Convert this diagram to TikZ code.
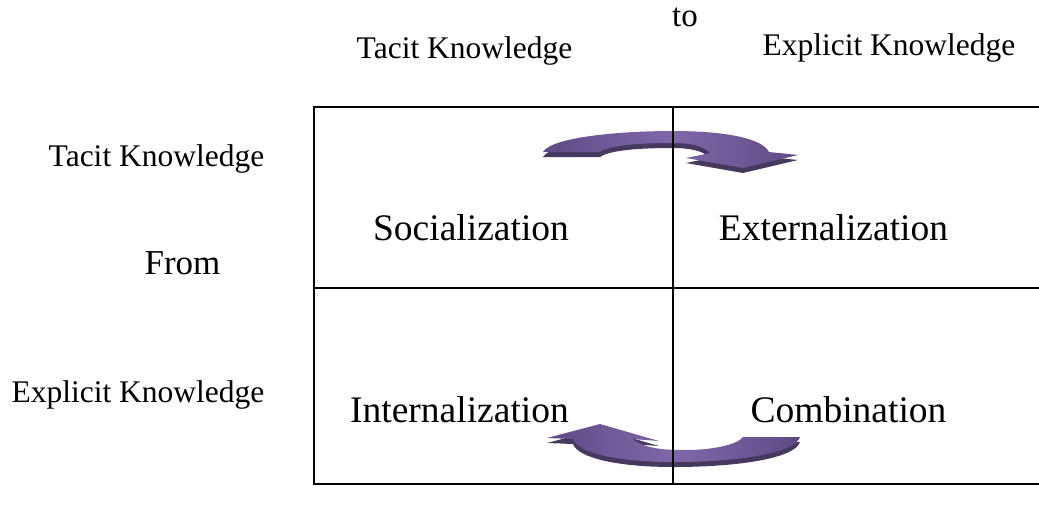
\documentclass[tikz,border=0pt]{standalone}
\usepackage{fontspec}
\setmainfont{Liberation Serif}
\begin{document}
\begin{tikzpicture}[x=1pt,y=-1pt,
  cell/.style={anchor=base,inner sep=0pt,font=\fontsize{37.5}{40}\selectfont},
  axis/.style={anchor=base,inner sep=0pt,font=\fontsize{31.5}{34}\selectfont},
  grid/.style={line width=2.2pt,black},
  arrowside/.style={fill=arrowdark},
  arrowface/.style={left color=arrowend,right color=arrowend,middle color=arrowmid}]
\definecolor{arrowdark}{HTML}{46395F}
\definecolor{arrowend}{HTML}{5E4A85}
\definecolor{arrowmid}{HTML}{8068A8}
\useasboundingbox (0,0) rectangle (1039,531);

% column and row headings
\node[axis,font=\fontsize{33}{36}\selectfont] (to) at (685,26) {to};
\node[axis] (colTacit) at (464.5,58) {Tacit Knowledge};
\node[axis] (colExplicit) at (889,55) {Explicit Knowledge};
\node[axis] (rowTacit) at (156.5,166) {Tacit Knowledge};
\node[axis,font=\fontsize{35}{38}\selectfont] (from) at (182.5,274) {From};
\node[axis] (rowExplicit) at (138,402) {Explicit Knowledge};

% the four conversion modes
\node[cell] (soc) at (471,240) {Socialization};
\node[cell] (ext) at (833.5,240) {Externalization};
\node[cell] (int) at (459.5,422) {Internalization};
\node[cell] (com) at (848.5,422) {Combination};

% curved arrow: tacit -> explicit (top)
\def\toparrow{(543,152) .. controls (552,137) and (620,131) .. (673,131)
  .. controls (724,131) and (762,138) .. (769,152) -- (798,155) -- (743,168)
  -- (686,158) -- (710,153) .. controls (704,146) and (690,143) .. (673,143)
  .. controls (640,143) and (610,145) .. (600,152) -- cycle}
\fill[arrowside,yshift=-5pt] \toparrow;
\shade[arrowface] \toparrow;

% curved arrow: explicit -> tacit (bottom)
\def\botarrow{(600,424) -- (659,441) -- (632,439)
  .. controls (645,448) and (660,450) .. (685,450)
  .. controls (715,450) and (738,444) .. (743,437) -- (800,437)
  .. controls (795,453) and (740,462) .. (673,462)
  .. controls (618,462) and (578,453) .. (573,439) -- (547,438) -- cycle}
\fill[arrowside,yshift=-5pt] \botarrow;
\shade[arrowface] \botarrow;

% grid
\coordinate (tl) at (314,107);
\coordinate (tm) at (673,107);
\coordinate (tr) at (1039,107);
\coordinate (ml) at (314,288);
\coordinate (mr) at (1039,288);
\coordinate (bl) at (314,484);
\coordinate (bm) at (673,484);
\coordinate (br) at (1039,484);
\draw[grid] (tr) -- (tl) -- (bl) -- (br);
\draw[grid] (ml) -- (mr);
\draw[grid] (tm) -- (bm);
\end{tikzpicture}
\end{document}
